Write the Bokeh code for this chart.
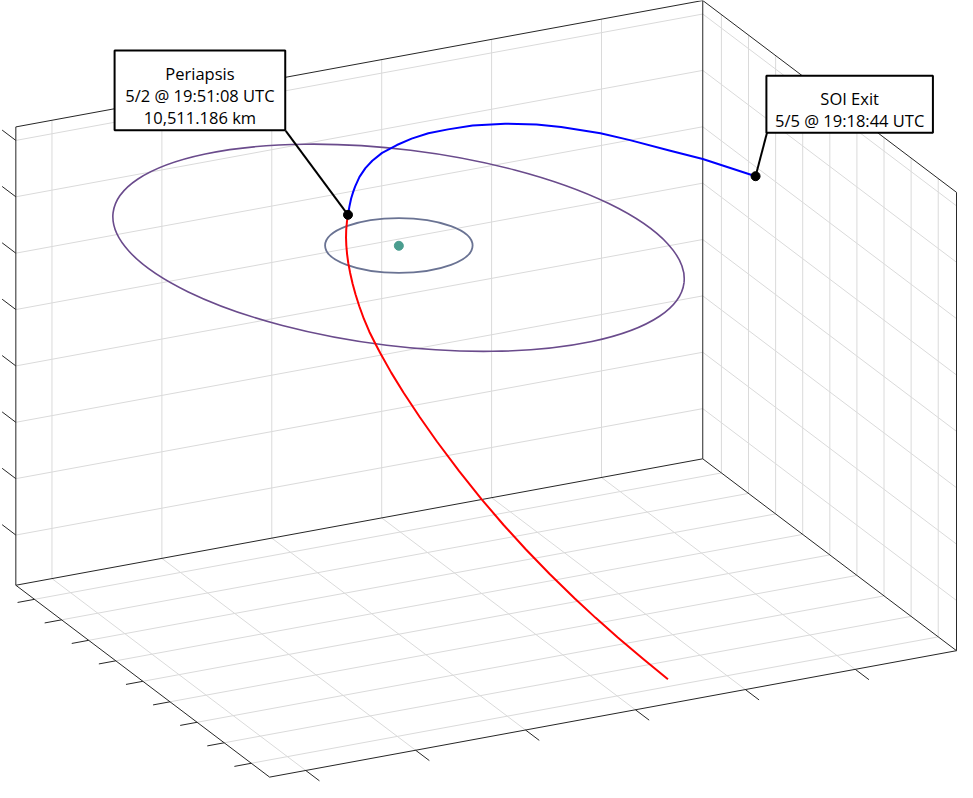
from bokeh.plotting import figure
from bokeh.models import Range1d
from bokeh.embed import file_html
from bokeh.resources import INLINE
from bokeh.core.properties import value

# ---------------- data (screen px, y downward) ----------------
# projected 3-D axes box
box_origin = (15.6, 596.7)      # back-left-bottom corner
axis_x_dir = (698.4, -129.0)    # full span of the x axis
axis_y_dir = (258.0, 195.8)     # full span of the depth axis
axis_z_dir = (0.0, -467.7)      # full span of the vertical axis

# tick positions as fractions of each axis span (no tick labels shown)
x_ticks = [0.0526, 0.2126, 0.3726, 0.5326, 0.6926, 0.8526]
y_ticks = [0.0735, 0.1803, 0.2871, 0.3939, 0.5007, 0.6075, 0.7143, 0.8211, 0.9279]
z_ticks = [0.1095, 0.2325, 0.3555, 0.4785, 0.6015, 0.7245, 0.8475, 0.9705]

# inbound (red) leg of the trajectory
inbound_x = [353.3, 352.2, 351.5, 351.3, 351.6, 352.4, 353.6, 355.5, 358.0, 361.0, 364.8,
             369.5, 375.0, 380.5, 386.2, 397.4, 409.7, 426.2, 443.7, 466.1, 489.2, 511.3,
             534.0, 558.1, 583.6, 605.1, 627.6, 653.5, 678.6]
inbound_y = [218.7, 226.0, 234.0, 242.0, 250.0, 259.0, 268.0, 278.0, 289.0, 300.0, 312.0,
             325.0, 338.0, 349.0, 360.0, 380.0, 400.0, 425.0, 450.0, 480.0, 509.0, 535.0,
             560.0, 585.0, 610.0, 630.0, 650.0, 672.0, 692.7]

# outbound (blue) leg of the trajectory
outbound_x = [353.3, 354.8, 356.5, 358.5, 360.5, 365.0, 371.0, 378.0, 388.0, 403.0, 418.0,
              435.0, 455.0, 480.0, 513.0, 545.0, 570.0, 610.0, 640.0, 680.0, 714.0, 767.7]
outbound_y = [218.7, 210.0, 202.0, 195.5, 190.0, 180.0, 171.0, 163.5, 155.5, 147.5, 141.0,
              135.5, 131.5, 127.5, 125.7, 126.5, 129.0, 135.5, 142.5, 153.0, 161.7, 179.3]

# orbits (projected ellipses): centre x, centre y, full width, full height, tilt (deg, clockwise)
outer_orbit = (404.7, 252.3, 584.8, 200.6, 7.0)
inner_orbit = (405.0, 250.0, 150.0, 56.0, 0.0)
body_xy = (405.0, 250.3)

# events and their labels
event_x = [353.3, 767.7]
event_y = [218.7, 179.3]
periapsis_lines = ["Periapsis", "5/2 @ 19:51:08 UTC", "10,511.186 km"]
soi_lines = ["SOI Exit", "5/5 @ 19:18:44 UTC"]
# label boxes: left, right, top, bottom ; leader anchor on box
periapsis_box = (116.0, 289.5, 51.0, 132.5)
periapsis_anchor = (290.0, 133.0)
soi_box = (778.7, 948.0, 76.7, 135.0)
soi_anchor = (779.3, 135.0)
label_baseline_first = {"periapsis": 74.6, "soi": 99.6}
label_line_step = 22.5

# ---------------- helpers ----------------
def P(u, v, w):
    return (box_origin[0] + u * axis_x_dir[0] + v * axis_y_dir[0] + w * axis_z_dir[0],
            box_origin[1] + u * axis_x_dir[1] + v * axis_y_dir[1] + w * axis_z_dir[1])

def unit(d):
    n = (d[0] ** 2 + d[1] ** 2) ** 0.5
    return (d[0] / n, d[1] / n)

def seg(a, b, xs, ys):
    xs.append([a[0], b[0]])
    ys.append([a[1], b[1]])

p = figure(width=957, height=782, x_range=Range1d(0, 973), y_range=Range1d(798, 0),
           output_backend="svg", toolbar_location=None, min_border=0,
           x_axis_location=None, y_axis_location=None)
p.xgrid.visible = False
p.ygrid.visible = False
p.outline_line_color = None
p.background_fill_color = "white"
p.border_fill_color = "white"

# grid lines
gx, gy = [], []
for u in x_ticks:
    seg(P(u, 0, 0), P(u, 0, 1), gx, gy)   # back wall
    seg(P(u, 0, 0), P(u, 1, 0), gx, gy)   # floor
for w in z_ticks:
    seg(P(0, 0, w), P(1, 0, w), gx, gy)   # back wall
    seg(P(1, 0, w), P(1, 1, w), gx, gy)   # right wall
for v in y_ticks:
    seg(P(1, v, 0), P(1, v, 1), gx, gy)   # right wall
    seg(P(0, v, 0), P(1, v, 0), gx, gy)   # floor
p.multi_line(gx, gy, line_color="#dadada", line_width=1)

# box edges
bx, by = [], []
for a, b in [((0, 0, 0), (0, 0, 1)), ((0, 0, 1), (1, 0, 1)), ((1, 0, 0), (1, 0, 1)),
             ((1, 0, 1), (1, 1, 1)), ((1, 1, 0), (1, 1, 1)), ((1, 0, 0), (1, 1, 0)),
             ((0, 0, 0), (1, 0, 0)), ((0, 0, 0), (0, 1, 0)), ((0, 1, 0), (1, 1, 0))]:
    seg(P(*a), P(*b), bx, by)
# ticks
tl = 17.5
ex_u = unit(axis_x_dir)
ey_u = unit(axis_y_dir)
for w in z_ticks:
    a = P(0, 0, w)
    seg(a, (a[0] - tl * ey_u[0], a[1] - tl * ey_u[1]), bx, by)
for v in y_ticks:
    a = P(0, v, 0)
    seg(a, (a[0] - tl * ex_u[0], a[1] - tl * ex_u[1]), bx, by)
for u in x_ticks:
    a = P(u, 1, 0)
    seg(a, (a[0] + tl * ey_u[0], a[1] + tl * ey_u[1]), bx, by)
p.multi_line(bx, by, line_color="#262626", line_width=1)

# orbits
p.ellipse(x=[outer_orbit[0]], y=[outer_orbit[1]], width=[outer_orbit[2]], height=[outer_orbit[3]],
          angle=[-outer_orbit[4]], angle_units="deg", fill_color=None,
          line_color="#6a4b8c", line_width=1.6)
p.ellipse(x=[inner_orbit[0]], y=[inner_orbit[1]], width=[inner_orbit[2]], height=[inner_orbit[3]],
          angle=[-inner_orbit[4]], angle_units="deg", fill_color=None,
          line_color="#6a7393", line_width=1.8)
p.scatter(x=[body_xy[0]], y=[body_xy[1]], size=9, fill_color="#4a9d8f", line_color="#4a9d8f")

# trajectory
p.line(inbound_x, inbound_y, line_color="#ff0000", line_width=2, line_join="round")
p.line(outbound_x, outbound_y, line_color="#0000ff", line_width=2, line_join="round")

# leader lines
p.segment(x0=[periapsis_anchor[0], soi_anchor[0]], y0=[periapsis_anchor[1], soi_anchor[1]],
          x1=event_x, y1=event_y, line_color="black", line_width=2)
p.scatter(x=event_x, y=event_y, size=9, fill_color="black", line_color="black")

# label boxes
for box in (periapsis_box, soi_box):
    p.quad(left=[box[0]], right=[box[1]], top=[box[2]], bottom=[box[3]],
           fill_color="white", line_color="black", line_width=2)

def label(lines, box, first):
    cx = (box[0] + box[1]) / 2
    ys = [first + i * label_line_step for i in range(len(lines))]
    p.text(x=[cx] * len(lines), y=ys, text=lines, text_align="center",
           text_baseline="alphabetic", text_font=value("Open Sans"),
           text_font_size="16.5px", text_color="black")

label(periapsis_lines, periapsis_box, label_baseline_first["periapsis"])
label(soi_lines, soi_box, label_baseline_first["soi"])

open("out.html", "w").write(file_html(p, INLINE))
